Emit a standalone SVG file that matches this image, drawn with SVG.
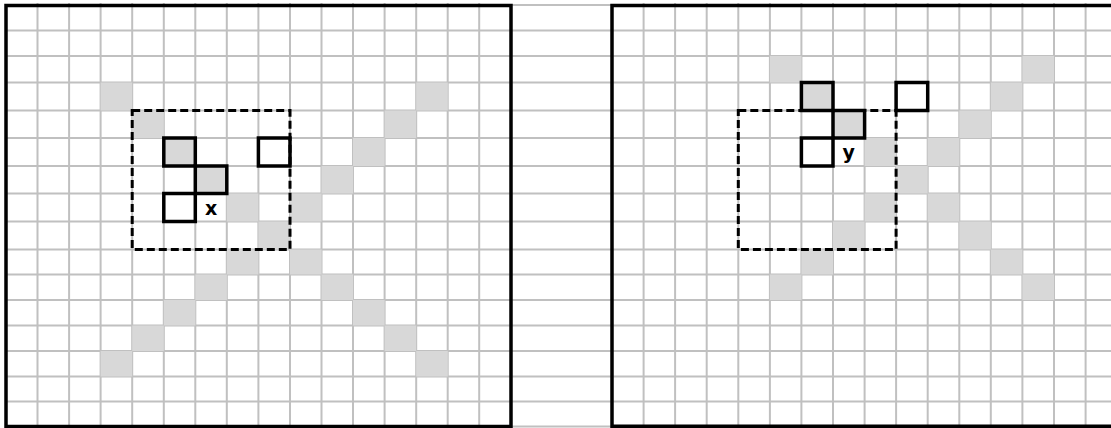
<svg xmlns="http://www.w3.org/2000/svg" width="1111" height="428" viewBox="0 0 1111 428">
<style>
.g{stroke:#c0c0c0;stroke-width:2;fill:none}
.cell{fill:#d8d8d8}
.bold{fill:none;stroke:#000;stroke-width:3.5}
.dash{fill:none;stroke:#000;stroke-width:3;stroke-dasharray:8 4}
.border{fill:none;stroke:#000;stroke-width:3.5}
.lbl{font-family:"DejaVu Sans","Verdana",sans-serif;font-weight:bold;font-size:19px;fill:#000;text-anchor:middle}
</style>
<rect width="1111" height="428" fill="#fff"/>
<g id="grid">
<path class="g" d="M6 5H1111M6 30.5H1111M6 56H1111M6 82.5H1111M6 110.5H1111M6 138H1111M6 166H1111M6 193.5H1111M6 221.5H1111M6 249.5H1111M6 274.5H1111M6 300H1111M6 325.5H1111M6 351H1111M6 376.5H1111M6 401.5H1111M6 426.5H1111"/>
<path class="g" d="M37.5 3V428M69.1 3V428M100.6 3V428M132.2 3V428M163.8 3V428M195.3 3V428M226.8 3V428M258.4 3V428M290 3V428M321.5 3V428M353 3V428M384.6 3V428M416.2 3V428M447.7 3V428M479.2 3V428"/>
<path class="g" d="M643.6 3V428M675.1 3V428M706.7 3V428M738.3 3V428M769.9 3V428M801.4 3V428M833 3V428M864.6 3V428M896.1 3V428M927.7 3V428M959.3 3V428M990.8 3V428M1022.4 3V428M1054 3V428M1085.6 3V428"/>
</g>
<g id="left-panel">
<g id="left-x">
<rect class="cell" x="100.6" y="82.5" width="31.6" height="28"/>
<rect class="cell" x="416.2" y="82.5" width="31.6" height="28"/>
<rect class="cell" x="132.2" y="110.5" width="31.6" height="27.5"/>
<rect class="cell" x="384.6" y="110.5" width="31.6" height="27.5"/>
<rect class="cell" x="163.8" y="138" width="31.6" height="28"/>
<rect class="cell" x="353" y="138" width="31.6" height="28"/>
<rect class="cell" x="195.3" y="166" width="31.6" height="27.5"/>
<rect class="cell" x="321.5" y="166" width="31.6" height="27.5"/>
<rect class="cell" x="226.8" y="193.5" width="31.6" height="28"/>
<rect class="cell" x="290" y="193.5" width="31.6" height="28"/>
<rect class="cell" x="258.4" y="221.5" width="31.6" height="28"/>
<rect class="cell" x="226.8" y="249.5" width="31.6" height="25"/>
<rect class="cell" x="290" y="249.5" width="31.6" height="25"/>
<rect class="cell" x="195.3" y="274.5" width="31.6" height="25.5"/>
<rect class="cell" x="321.5" y="274.5" width="31.6" height="25.5"/>
<rect class="cell" x="163.8" y="300" width="31.6" height="25.5"/>
<rect class="cell" x="353" y="300" width="31.6" height="25.5"/>
<rect class="cell" x="132.2" y="325.5" width="31.6" height="25.5"/>
<rect class="cell" x="384.6" y="325.5" width="31.6" height="25.5"/>
<rect class="cell" x="100.6" y="351" width="31.6" height="25.5"/>
<rect class="cell" x="416.2" y="351" width="31.6" height="25.5"/>
</g>
<rect id="left-window" class="dash" x="132.2" y="110.5" width="157.8" height="139"/>
<g id="left-marks">
<rect class="bold" x="163.8" y="138" width="31.5" height="28"/>
<rect class="bold" x="195.3" y="166" width="31.5" height="27.5"/>
<rect class="bold" x="163.8" y="193.5" width="31.5" height="28"/>
<rect class="bold" x="258.4" y="138" width="31.6" height="28"/>
</g>
<text id="label-x" class="lbl" x="211.1" y="215">x</text>
<rect class="border" x="6" y="5.5" width="505" height="421"/>
</g>
<g id="right-panel">
<g id="right-x">
<rect class="cell" x="769.9" y="56" width="31.6" height="26.5"/>
<rect class="cell" x="1022.4" y="56" width="31.6" height="26.5"/>
<rect class="cell" x="801.4" y="82.5" width="31.6" height="28"/>
<rect class="cell" x="990.8" y="82.5" width="31.6" height="28"/>
<rect class="cell" x="833" y="110.5" width="31.6" height="27.5"/>
<rect class="cell" x="959.3" y="110.5" width="31.6" height="27.5"/>
<rect class="cell" x="864.6" y="138" width="31.6" height="28"/>
<rect class="cell" x="927.7" y="138" width="31.6" height="28"/>
<rect class="cell" x="896.1" y="166" width="31.6" height="27.5"/>
<rect class="cell" x="864.6" y="193.5" width="31.6" height="28"/>
<rect class="cell" x="927.7" y="193.5" width="31.6" height="28"/>
<rect class="cell" x="833" y="221.5" width="31.6" height="28"/>
<rect class="cell" x="959.3" y="221.5" width="31.6" height="28"/>
<rect class="cell" x="801.4" y="249.5" width="31.6" height="25"/>
<rect class="cell" x="990.8" y="249.5" width="31.6" height="25"/>
<rect class="cell" x="769.9" y="274.5" width="31.6" height="25.5"/>
<rect class="cell" x="1022.4" y="274.5" width="31.6" height="25.5"/>
</g>
<rect id="right-window" class="dash" x="738.3" y="110.5" width="157.8" height="139"/>
<g id="right-marks">
<rect class="bold" x="801.4" y="82.5" width="31.6" height="28"/>
<rect class="bold" x="833" y="110.5" width="31.6" height="27.5"/>
<rect class="bold" x="801.4" y="138" width="31.6" height="28"/>
<rect class="bold" x="896.1" y="82.5" width="31.6" height="28"/>
</g>
<text id="label-y" class="lbl" x="848.8" y="159">y</text>
<path class="border" d="M1113 5.5H612V426.2H1113"/>
</g>
</svg>
